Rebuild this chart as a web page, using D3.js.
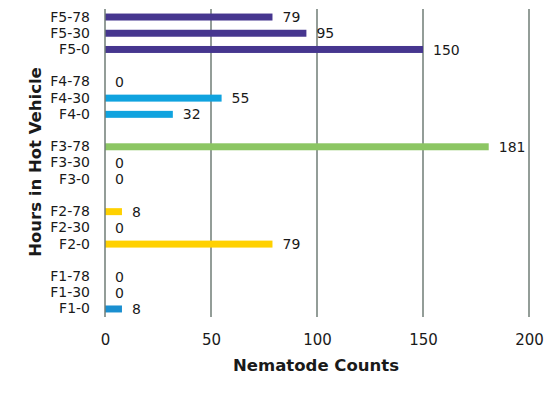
<!DOCTYPE html>
<html><head><meta charset="utf-8">
<script src="https://cdn.jsdelivr.net/npm/d3@7"></script>
<style>body{margin:0;background:#fff}svg{display:block}text{font-family:"DejaVu Sans",sans-serif;fill:#1a1a1a}</style>
</head><body><svg id="c" width="550" height="399"></svg>
<script>
const categories = ["F5-78","F5-30","F5-0","gap4","F4-78","F4-30","F4-0","gap3","F3-78","F3-30","F3-0","gap2","F2-78","F2-30","F2-0","gap1","F1-78","F1-30","F1-0"];
const values =     [79,95,150,null,0,55,32,null,181,0,0,null,8,0,79,null,0,0,8];
const colors =     ["#46368f","#46368f","#46368f",null,"#10a3df","#10a3df","#10a3df",null,"#8cc663","#8cc663","#8cc663",null,"#ffd100","#ffd100","#ffd100",null,"#1a8fd0","#1a8fd0","#1a8fd0"];
const xTicks = [0,50,100,150,200];

const svg = d3.select("#c");
const x = d3.scaleLinear().domain([0,200]).range([105,529]);
const y = d3.scaleBand().domain(categories).range([9,317]).paddingInner(0.57).paddingOuter(0.28);

// grid lines
svg.append("g").selectAll("line").data(xTicks.slice(1)).join("line")
  .attr("x1",d=>x(d)).attr("x2",d=>x(d)).attr("y1",9).attr("y2",317)
  .attr("stroke","#6f7d76").attr("stroke-width",1.5);

const data = categories.map((c,i)=>({c,v:values[i],col:colors[i]})).filter(d=>d.v!==null);

svg.append("g").selectAll("rect").data(data).join("rect")
  .attr("x",x(0)).attr("y",d=>y(d.c)).attr("width",d=>x(d.v)-x(0)).attr("height",y.bandwidth())
  .attr("fill",d=>d.col);

// axis line
svg.append("line").attr("x1",x(0)).attr("x2",x(0)).attr("y1",9).attr("y2",317)
  .attr("stroke","#6f7d76").attr("stroke-width",1.5);

// value labels
svg.append("g").selectAll("text").data(data).join("text")
  .attr("x",d=>x(d.v)+10).attr("y",d=>y(d.c)+y.bandwidth()/2).attr("dy","0.36em")
  .attr("font-size",14).text(d=>d.v);

// y axis labels
const yAxis = d3.axisLeft(y).tickSize(0).tickPadding(15).tickFormat(d=>d.startsWith("gap")?"":d);
const gy = svg.append("g").attr("transform",`translate(${x(0)},0)`).call(yAxis);
gy.select(".domain").remove();
gy.selectAll("text").attr("font-size",14).style("font-family","'DejaVu Sans',sans-serif").attr("fill","#1a1a1a");

// x axis labels
const xAxis = d3.axisBottom(x).tickValues(xTicks).tickSize(0).tickPadding(17);
const gx = svg.append("g").attr("transform","translate(0,317)").call(xAxis);
gx.select(".domain").remove();
gx.selectAll("text").attr("font-size",15).style("font-family","'DejaVu Sans',sans-serif").attr("fill","#1a1a1a");

svg.append("text").attr("x",316).attr("y",371).attr("text-anchor","middle")
  .attr("font-size",16.5).attr("font-weight","bold").text("Nematode Counts");
svg.append("text").attr("transform","translate(41,162) rotate(-90)").attr("text-anchor","middle")
  .attr("font-size",16.5).attr("font-weight","bold").text("Hours in Hot Vehicle");
</script></body></html>
